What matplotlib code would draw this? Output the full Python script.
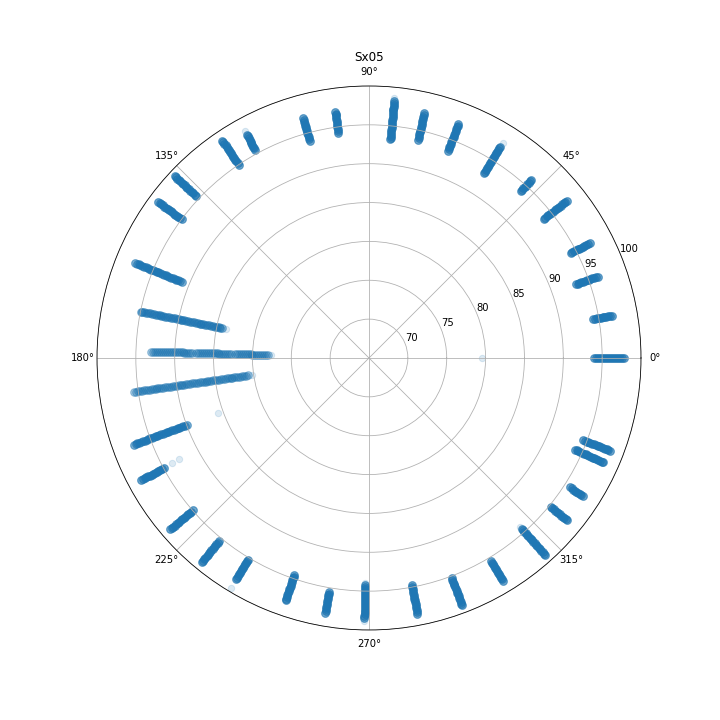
import numpy as np
import matplotlib.pyplot as plt

title = 'Sx05'

# heading of each cluster (degrees), the radii read along it and how many
# readings sit on each radius
cluster_theta = [0.0, 9.9, 19.6, 27.5, 38.5, 47.7, 58.1, 69.1, 77.3, 84.4,
                 97.8, 105.3, 118.7, 124.0, 136.9, 143.5, 157.9, 168.5, 178.3,
                 188.2, 200.2, 208.2, 220.8, 230.7, 239.0, 251.0, 260.3, 269.0,
                 280.7, 290.6, 301.0, 311.8, 320.7, 327.2, 336.0, 339.0]

cluster_n = [6, 6, 6, 6, 6, 6, 6, 6, 6, 6,
             6, 6, 6, 6, 6, 6, 5, 4, 3,
             3, 5, 6, 6, 6, 6, 6, 6, 6,
             6, 6, 6, 6, 6, 6, 6, 6]

cluster_r = [
    [94.0, 94.25, 94.5, 94.75, 95.0, 95.25, 95.5, 95.75, 96.0, 96.25, 96.5,
     96.75, 97.0, 97.25, 97.5, 97.75],
    [94.25, 94.5, 94.75, 95.0, 95.25, 95.5, 95.75, 96.0, 96.25, 96.5, 96.75],
    [93.25, 93.5, 93.75, 94.0, 94.25, 94.5, 94.75, 95.0, 95.25, 95.5, 95.75,
     96.0, 96.25],
    [94.25, 94.5, 94.75, 95.0, 95.25, 95.5, 95.75, 96.0, 96.25, 96.5, 96.75,
     97.0],
    [93.75, 94.0, 94.25, 94.5, 94.75, 95.0, 95.25, 95.5, 95.75, 96.0, 96.25,
     96.5, 96.75, 97.0, 97.25, 97.5],
    [94.0, 94.25, 94.5, 94.75, 95.0, 95.25, 95.5, 95.75, 96.0],
    [93.0, 93.25, 93.5, 93.75, 94.0, 94.25, 94.5, 94.75, 95.0, 95.25, 95.5,
     95.75, 96.0, 96.25, 96.5, 96.75, 97.0],
    [93.5, 93.75, 94.0, 94.25, 94.5, 94.75, 95.0, 95.25, 95.5, 95.75, 96.0,
     96.25, 96.5, 96.75, 97.0, 97.25],
    [93.75, 94.0, 94.25, 94.5, 94.75, 95.0, 95.25, 95.5, 95.75, 96.0, 96.25,
     96.5, 96.75, 97.0, 97.25],
    [93.25, 93.5, 93.75, 94.0, 94.25, 94.5, 94.75, 95.0, 95.25, 95.5, 95.75,
     96.0, 96.25, 96.5, 96.75, 97.0, 97.25, 97.5, 97.75, 98.0, 98.25],
    [94.25, 94.5, 94.75, 95.0, 95.25, 95.5, 95.75, 96.0, 96.25, 96.5, 96.75,
     97.0],
    [94.0, 94.25, 94.5, 94.75, 95.0, 95.25, 95.5, 95.75, 96.0, 96.25, 96.5,
     96.75, 97.0],
    [95.5, 95.75, 96.0, 96.25, 96.5, 96.75, 97.0, 97.25, 97.5, 97.75],
    [95.0, 95.25, 95.5, 95.75, 96.0, 96.25, 96.5, 96.75, 97.0, 97.25, 97.5,
     97.75, 98.0, 98.25, 98.5, 98.75],
    [95.5, 95.75, 96.0, 96.25, 96.5, 96.75, 97.0, 97.25, 97.5, 97.75, 98.0,
     98.25, 98.5, 98.75, 99.0, 99.25],
    [95.0, 95.25, 95.5, 95.75, 96.0, 96.25, 96.5, 96.75, 97.0, 97.25, 97.5,
     97.75, 98.0, 98.25, 98.5, 98.75],
    [91.0, 91.25, 91.5, 91.75, 92.0, 92.25, 92.5, 92.75, 93.0, 93.25, 93.5,
     93.75, 94.0, 94.25, 94.5, 94.75, 95.0, 95.25, 95.5, 95.75, 96.0, 96.25,
     96.5, 96.75, 97.0, 97.25, 97.5],
    [84.25, 84.5, 84.75, 85.0, 85.25, 85.5, 85.75, 86.0, 86.25, 86.5, 86.75,
     87.0, 87.25, 87.5, 87.75, 88.0, 88.25, 88.5, 88.75, 89.0, 89.25, 89.5,
     89.75, 90.0, 90.25, 90.5, 90.75, 91.0, 91.25, 91.5, 91.75, 92.0, 92.25,
     92.5, 92.75, 93.0, 93.25, 93.5, 93.75, 94.0, 94.25, 94.5, 94.75, 95.0],
    [78.0, 78.25, 78.5, 78.75, 79.0, 79.25, 79.5, 79.75, 80.0, 80.25, 80.5,
     80.75, 81.0, 81.25, 81.5, 81.75, 82.0, 82.25, 82.75, 83.0, 83.25,
     83.5, 83.75, 84.0, 84.25, 84.5, 84.75, 85.0, 85.25, 85.5, 85.75, 86.0,
     86.25, 86.5, 86.75, 87.0, 87.25, 87.75, 88.0, 88.25, 88.5, 88.75, 89.0,
     89.25, 89.5, 89.75, 90.0, 90.25, 90.5, 90.75, 91.0, 91.25, 91.5, 91.75,
     92.0, 92.25, 92.5, 92.75, 93.0],
    [80.75, 81.0, 81.25, 81.5, 81.75, 82.0, 82.25, 82.5, 82.75, 83.0, 83.25,
     83.5, 83.75, 84.0, 84.25, 84.5, 84.75, 85.0, 85.25, 85.5, 85.75, 86.0,
     86.25, 86.5, 86.75, 87.0, 87.25, 87.5, 87.75, 88.0, 88.25, 88.5, 88.75,
     89.0, 89.25, 89.5, 89.75, 90.0, 90.25, 90.5, 90.75, 91.0, 91.25, 91.5,
     91.75, 92.0, 92.25, 92.5, 92.75, 93.0, 93.25, 93.5, 93.75, 94.0, 94.25,
     94.5, 94.75, 95.0, 95.25, 95.5],
    [90.0, 90.25, 90.5, 90.75, 91.0, 91.25, 91.5, 91.75, 92.0, 92.25, 92.5,
     92.75, 93.0, 93.25, 93.5, 93.75, 94.0, 94.25, 94.5, 94.75, 95.0, 95.25,
     95.5, 95.75, 96.0, 96.25, 96.5, 96.75, 97.0, 97.25],
    [95.0, 95.25, 95.5, 95.75, 96.0, 96.25, 96.5, 96.75, 97.0, 97.25, 97.5,
     97.75, 98.0, 98.25],
    [95.0, 95.25, 95.5, 95.75, 96.0, 96.25, 96.5, 96.75, 97.0, 97.25, 97.5,
     97.75, 98.0, 98.25, 98.5, 98.75],
    [95.5, 95.75, 96.0, 96.25, 96.5, 96.75, 97.0, 97.25, 97.5, 97.75, 98.0,
     98.25, 98.5, 98.75, 99.0],
    [95.25, 95.5, 95.75, 96.0, 96.25, 96.5, 96.75, 97.0, 97.25, 97.5, 97.75,
     98.0, 98.25],
    [94.5, 94.75, 95.0, 95.25, 95.5, 95.75, 96.0, 96.25, 96.5, 96.75, 97.0,
     97.25, 97.5, 97.75, 98.0],
    [95.5, 95.75, 96.0, 96.25, 96.5, 96.75, 97.0, 97.25, 97.5, 97.75, 98.0,
     98.25],
    [94.25, 94.5, 94.75, 95.0, 95.25, 95.5, 95.75, 96.0, 96.25, 96.5, 96.75,
     97.0, 97.25, 97.5, 97.75, 98.0, 98.25, 98.5],
    [94.75, 95.0, 95.25, 95.5, 95.75, 96.0, 96.25, 96.5, 96.75, 97.0, 97.25,
     97.5, 97.75, 98.0, 98.25, 98.5],
    [95.25, 95.5, 95.75, 96.0, 96.25, 96.5, 96.75, 97.0, 97.25, 97.5, 97.75,
     98.0, 98.25, 98.5, 98.75, 99.0],
    [95.5, 95.75, 96.0, 96.25, 96.5, 96.75, 97.0, 97.25, 97.5, 97.75, 98.0,
     98.25, 98.5],
    [94.5, 94.75, 95.0, 95.25, 95.5, 95.75, 96.0, 96.25, 96.5, 96.75, 97.0,
     97.25, 97.5, 97.75, 98.0, 98.25, 98.5, 98.75, 99.0],
    [95.25, 95.5, 95.75, 96.0, 96.25, 96.5, 96.75, 97.0, 97.25, 97.5, 97.75,
     98.0],
    [95.75, 96.0, 96.25, 96.5, 96.75, 97.0, 97.25, 97.5, 97.75],
    [94.0, 94.25, 94.5, 94.75, 95.0, 95.25, 95.5, 95.75, 96.0, 96.25, 96.5,
     96.75, 97.0, 97.25, 97.5, 97.75, 98.0],
    [94.5, 94.75, 95.0, 95.25, 95.5, 95.75, 96.0, 96.25, 96.5, 96.75, 97.0,
     97.25, 97.5, 97.75, 98.0, 98.25],
]

# single faint readings away from the clusters
stray_theta = [0.0, 200.1, 208.1, 208.1, 239.0, 84.4, 58.2, 178.3, 168.5,
               188.2, 269.0, 269.0, 118.7, 311.8]
stray_r = [79.6, 85.7, 92.7, 93.8, 99.5, 98.6, 97.6, 77.6, 83.8, 80.2, 93.9,
           98.9, 98.3, 94.1]

theta = []
r = []
for t, n, rs in zip(cluster_theta, cluster_n, cluster_r):
    theta += [t] * (len(rs) * n)
    r += list(np.repeat(rs, n))

fig = plt.figure(figsize=(10, 10), dpi=72)
ax = fig.add_axes([0.1347, 0.125, 0.7556, 0.7556], projection='polar')
ax.scatter(np.deg2rad(theta), r, s=58, alpha=0.15, color='C0')
ax.scatter(np.deg2rad(stray_theta), stray_r, s=40, alpha=0.15, color='C0')
ax.set_ylim(65, 100)
ax.set_yticks([70, 75, 80, 85, 90, 95, 100])
ax.set_title(title)
fig.savefig('out.png')
